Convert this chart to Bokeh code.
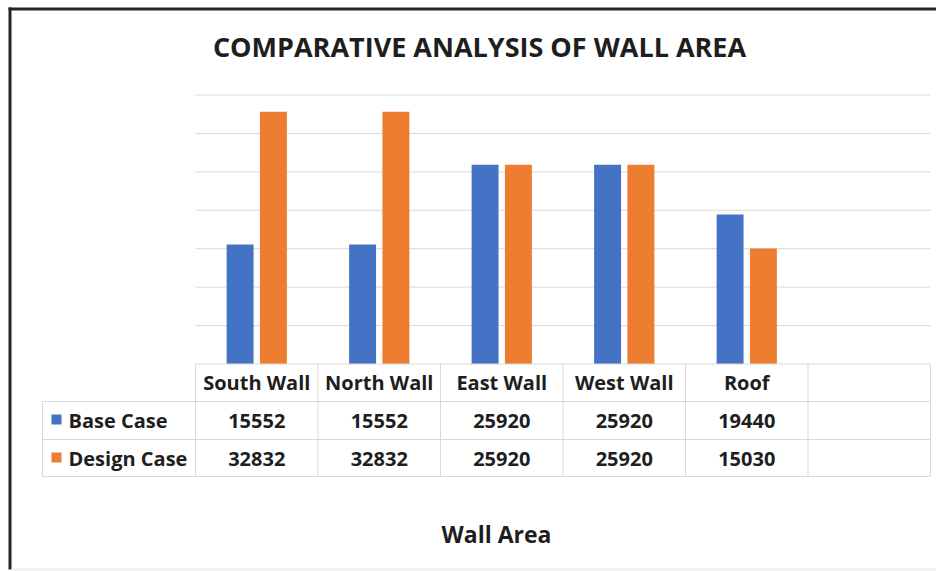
from bokeh.plotting import figure
from bokeh.models import Range1d
from bokeh.core.properties import value
from bokeh.embed import file_html
from bokeh.resources import INLINE

# ---- data ----
categories = ["South Wall", "North Wall", "East Wall", "West Wall", "Roof"]
base_case = [15552, 15552, 25920, 25920, 19440]
design_case = [32832, 32832, 25920, 25920, 15030]
series_names = ["Base Case", "Design Case"]
grid_values = [5000, 10000, 15000, 20000, 25000, 30000, 35000]
title_text = "COMPARATIVE ANALYSIS OF WALL AREA"
axis_title = "Wall Area"

# ---- layout helpers (page pixels -> data coordinates) ----
W, H = 936, 571
SLOT_PX = 122.5
X0_PX = 195.0
Y0_PX = 363.5
Y_PER_PX = 35000 / 269.0
N_SLOTS = 6


def X(px):
    return (px - X0_PX) / SLOT_PX


def Y(py):
    return (Y0_PX - py) * Y_PER_PX


BLUE = "#4472C4"
ORANGE = "#ED7D31"
GRID = "#d9d9d9"
TXT = "#1e1e1e"
FONT = value("Open Sans")

p = figure(width=W, height=H,
           x_range=Range1d(X(0), X(W)),
           y_range=Range1d(Y(H), Y(0)),
           x_axis_location=None, y_axis_location=None,
           toolbar_location=None, output_backend="svg",
           min_border=0, outline_line_color=None)
p.grid.visible = False
p.background_fill_color = "white"

# gridlines
p.segment(x0=[X(195)] * len(grid_values), x1=[X(930)] * len(grid_values),
          y0=grid_values, y1=grid_values, line_color=GRID, line_width=1)

# bars
idx = list(range(len(categories)))
off, bw = 0.136, 0.22
p.vbar(x=[i + 0.5 - off for i in idx], top=base_case, bottom=0, width=bw,
       fill_color=BLUE, line_color=None)
p.vbar(x=[i + 0.5 + off for i in idx], top=design_case, bottom=0, width=bw,
       fill_color=ORANGE, line_color=None)

# table lines
hy = [0, Y(401), Y(439), Y(476)]
hx0 = [X(195), X(42), X(42), X(42)]
p.segment(x0=hx0, x1=[X(930)] * 4, y0=hy, y1=hy, line_color=GRID, line_width=1)
vx = [k for k in range(N_SLOTS + 1)]
p.segment(x0=vx, x1=vx, y0=[0] * len(vx), y1=[Y(476)] * len(vx),
          line_color=GRID, line_width=1)
p.segment(x0=[X(42)], x1=[X(42)], y0=[Y(401)], y1=[Y(476)],
          line_color=GRID, line_width=1)

# table texts
tstyle = dict(text_font=FONT, text_font_style="bold", text_font_size="20px",
              text_color=TXT, text_align="center", text_baseline="middle")
p.text(x=[i + 0.5 for i in idx], y=[Y(382)] * len(idx), text=categories, **tstyle)
p.text(x=[i + 0.5 for i in idx], y=[Y(420)] * len(idx),
       text=[str(v) for v in base_case], **tstyle)
p.text(x=[i + 0.5 for i in idx], y=[Y(458)] * len(idx),
       text=[str(v) for v in design_case], **tstyle)

# legend keys in table
p.scatter(x=[X(56), X(56)], y=[Y(419), Y(457)], marker="square", size=10,
          fill_color=[BLUE, ORANGE], line_color=None)
p.text(x=[X(68), X(68)], y=[Y(420), Y(458)], text=series_names,
       text_font=FONT, text_font_style="bold", text_font_size="20px",
       text_color=TXT, text_align="left", text_baseline="middle")

# title and axis title
p.text(x=[X(479)], y=[Y(46)], text=[title_text], text_font=FONT,
       text_font_style="bold", text_font_size="27px", text_color=TXT,
       text_align="center", text_baseline="middle")
p.text(x=[X(496)], y=[Y(533)], text=[axis_title], text_font=FONT,
       text_font_style="bold", text_font_size="23px", text_color=TXT,
       text_align="center", text_baseline="middle")

# chart border (top and left visible, faint bottom)
p.segment(x0=[X(8), X(9.5)], x1=[X(936), X(9.5)], y0=[Y(8.5), Y(7)], y1=[Y(8.5), Y(569)],
          line_color="#262626", line_width=3)
p.segment(x0=[X(11)], x1=[X(936)], y0=[Y(569)], y1=[Y(569)],
          line_color="#ececec", line_width=2)

open("out.html", "w").write(file_html(p, INLINE))
